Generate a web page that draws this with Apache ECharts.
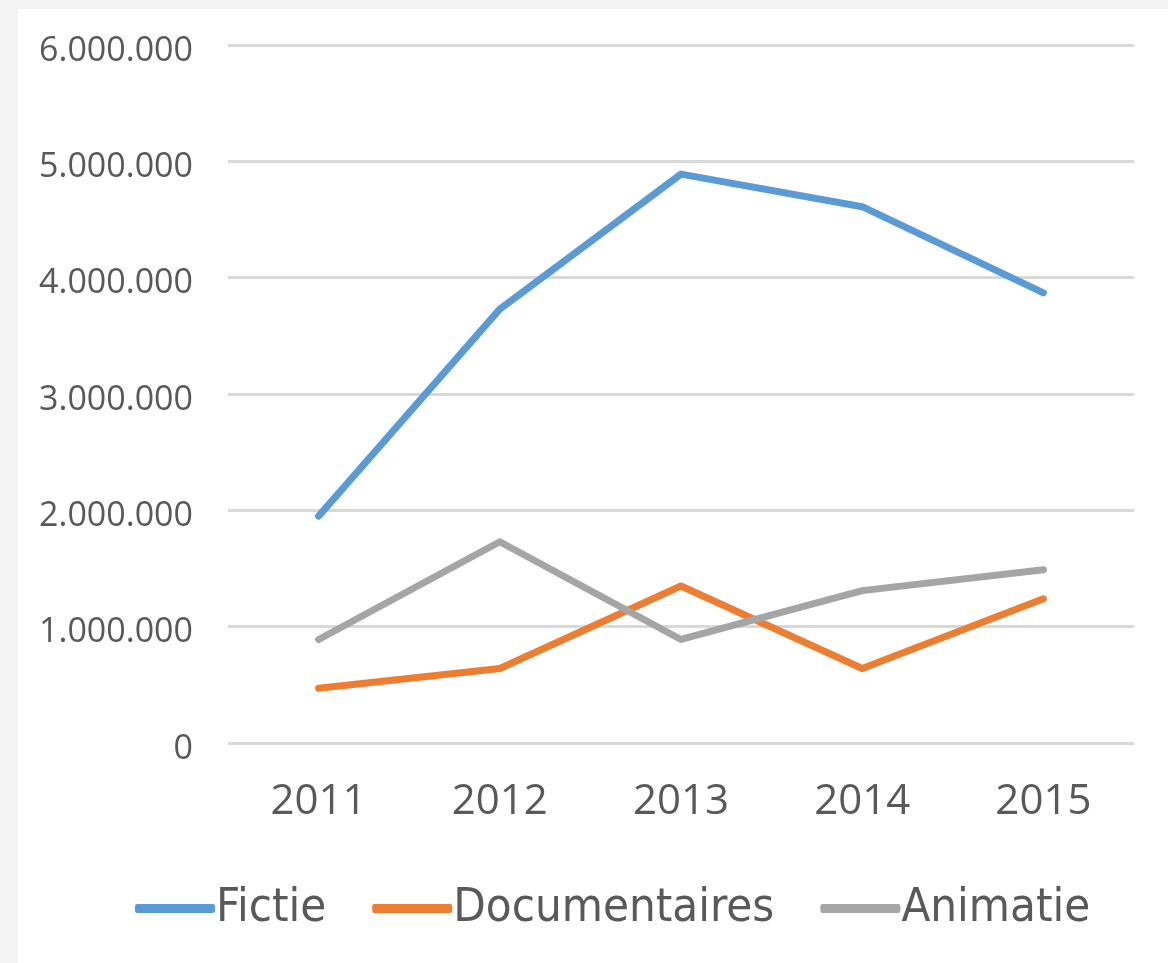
<!DOCTYPE html>
<html>
<head>
<meta charset="utf-8">
<script src="https://cdn.jsdelivr.net/npm/echarts@6/dist/echarts.min.js"></script>
<style>
  html, body { margin: 0; padding: 0; background: #f3f3f3; }
  #chart { position: absolute; left: 18px; top: 9px; width: 1150px; height: 954px; background: #fff; }
</style>
</head>
<body>
<div id="chart"></div>
<script>
const years = ['2011', '2012', '2013', '2014', '2015']
const fictie = [1950000, 3730000, 4890000, 4610000, 3870000]
const documentaires = [470000, 640000, 1350000, 640000, 1240000]
const animatie = [890000, 1730000, 890000, 1310000, 1490000]

const textColor = '#595959'

const chart = echarts.init(document.getElementById('chart'))

function lineSeries(name, data, color) {
  return {
    name: name,
    type: 'line',
    data: data,
    symbol: 'none',
    color: color,
    lineStyle: { width: 7, color: color, cap: 'round', join: 'round' },
    animation: false
  }
}

chart.setOption({
  backgroundColor: '#fff',
  grid: {
    left: 210,
    right: 34,
    top: 36,
    bottom: 220
  },
  xAxis: {
    type: 'category',
    data: years,
    boundaryGap: true,
    axisLine: { show: false },
    axisTick: { show: false },
    axisLabel: {
      color: textColor,
      fontFamily: 'Open Sans',
      fontSize: 42,
      margin: 38
    }
  },
  yAxis: {
    type: 'value',
    min: 0,
    max: 6000000,
    interval: 1000000,
    axisLine: { show: false },
    axisTick: { show: false },
    splitLine: { lineStyle: { color: '#d9d9d9', width: 3 } },
    axisLabel: {
      color: textColor,
      fontFamily: 'Open Sans',
      fontSize: 34,
      margin: 35,
      verticalAlign: 'top',
      lineHeight: 40,
      padding: [-14, 0, 0, 0],
      formatter: function (v) {
        return v.toString().replace(/\B(?=(\d{3})+(?!\d))/g, '.')
      }
    }
  },
  legend: {
    bottom: 26,
    left: 112,
    icon: 'roundRect',
    itemWidth: 80,
    itemHeight: 9,
    itemGap: 46,
    textStyle: {
      color: textColor,
      fontFamily: 'DejaVu Sans Condensed',
      fontSize: 47,
      padding: [0, 0, 0, -4]
    },
    data: ['Fictie', 'Documentaires', 'Animatie']
  },
  series: [
    lineSeries('Fictie', fictie, '#5b9bd5'),
    lineSeries('Documentaires', documentaires, '#ed7d31'),
    lineSeries('Animatie', animatie, '#a5a5a5')
  ]
})
</script>
</body>
</html>
